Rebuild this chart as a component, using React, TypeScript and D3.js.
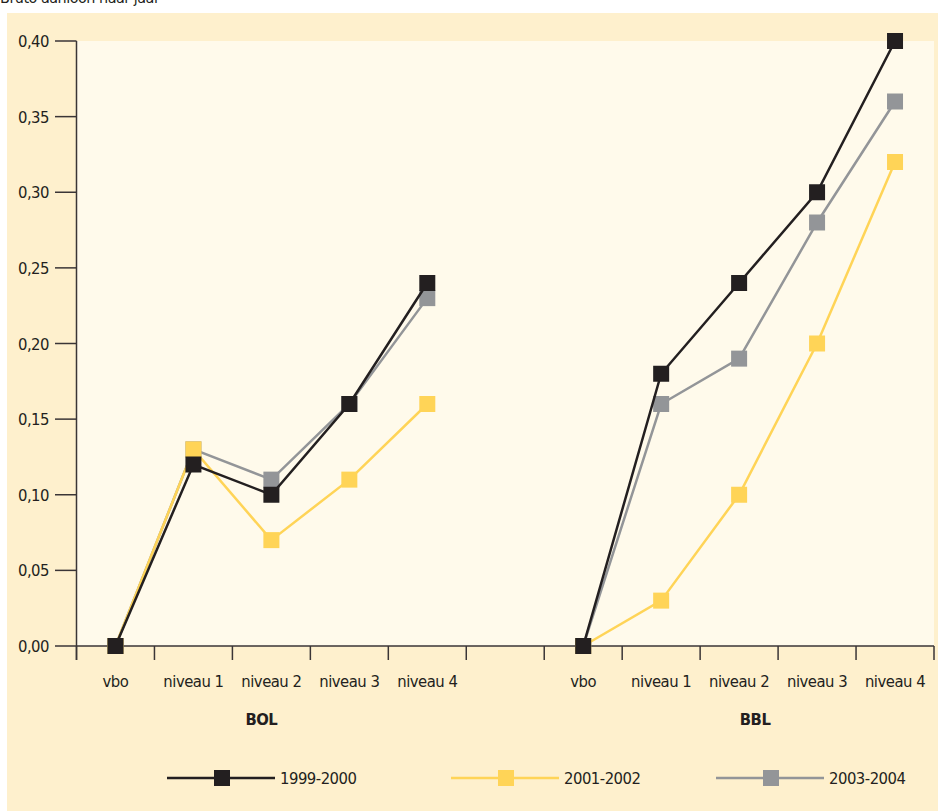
import React from "react";
import * as d3 from "d3";

const categories = ["vbo", "niveau 1", "niveau 2", "niveau 3", "niveau 4", "", "vbo", "niveau 1", "niveau 2", "niveau 3", "niveau 4"];
const groups = ["BOL", "BBL"];
const seriesNames = ["1999-2000", "2001-2002", "2003-2004"];
const yTicks = [0, 0.05, 0.1, 0.15, 0.2, 0.25, 0.3, 0.35, 0.4];

const s1999BOL = [0, 0.12, 0.10, 0.16, 0.24];
const s1999BBL = [0, 0.18, 0.24, 0.30, 0.40];
const s2001BOL = [0, 0.13, 0.07, 0.11, 0.16];
const s2001BBL = [0, 0.03, 0.10, 0.20, 0.32];
const s2003BOL = [0, 0.13, 0.11, 0.16, 0.23];
const s2003BBL = [0, 0.16, 0.19, 0.28, 0.36];

const colors = ["#231F20", "#FFD457", "#939598"];
const FONT = "'Liberation Sans Narrow', 'DejaVu Sans Condensed', 'Roboto Condensed', sans-serif";

export default function App() {
  const W = 938, H = 811;
  const left = 76.5, right = 934, top = 41, bottom = 646;
  const x = d3.scaleBand<number>().domain(d3.range(categories.length)).range([left, right]).padding(0);
  const y = d3.scaleLinear().domain([0, 0.4]).range([bottom, top]);
  const cx = (i: number) => (x(i) as number) + x.bandwidth() / 2;

  const seriesData = [
    { name: seriesNames[0], color: colors[0], bol: s1999BOL, bbl: s1999BBL },
    { name: seriesNames[1], color: colors[1], bol: s2001BOL, bbl: s2001BBL },
    { name: seriesNames[2], color: colors[2], bol: s2003BOL, bbl: s2003BBL },
  ];
  const drawOrder = [2, 1, 0];
  const line = d3.line<[number, number]>().x((d) => cx(d[0])).y((d) => y(d[1]));
  const sq = 16;

  const tickXs = d3.range(categories.length + 1).map((i) => left + i * x.bandwidth());
  const groupX = [cx(2) - 10, cx(8) + 16];
  const legendX = [167, 451, 716];
  const legendY = 778;
  const ls = -0.5;

  return (
    <div style={{ position: "absolute", left: 0, top: 0 }}>
      <svg width={W} height={H} style={{ display: "block" }} fontFamily={FONT}>
        <rect x={0} y={0} width={W} height={H} fill="#ffffff" />
        <text x={0} y={3} fontSize={16} letterSpacing={ls} fill="#231F20">Bruto aanloon naar jaar</text>
        <rect x={7} y={13} width={W - 7} height={H - 13} fill="#FEF0CD" />
        <rect x={left} y={top} width={right - left} height={bottom - top} fill="#FFFAEB" />

        {/* y axis */}
        <line x1={left} x2={left} y1={top} y2={bottom + 14} stroke="#3a3536" strokeWidth={1.5} />
        {yTicks.map((t) => (
          <g key={t}>
            <line x1={55} x2={left} y1={y(t)} y2={y(t)} stroke="#3a3536" strokeWidth={1.5} />
            <text x={49} y={y(t) + 6} textAnchor="end" fontSize={16.5} letterSpacing={ls} fill="#231F20">
              {d3.format(".2f")(t).replace(".", ",")}
            </text>
          </g>
        ))}
        {/* x axis */}
        <line x1={left} x2={right} y1={bottom} y2={bottom} stroke="#3a3536" strokeWidth={1.5} />
        {tickXs.map((tx, i) => (
          <line key={i} x1={tx} x2={tx} y1={bottom} y2={bottom + 14} stroke="#3a3536" strokeWidth={1.5} />
        ))}
        {categories.map((c, i) => (
          <text key={i} x={cx(i)} y={687} textAnchor="middle" fontSize={16.5} letterSpacing={ls} fill="#231F20">{c}</text>
        ))}
        {groups.map((g, i) => (
          <text key={g} x={groupX[i]} y={725} textAnchor="middle" fontSize={16.5} letterSpacing={ls} fontWeight="bold" fill="#231F20">{g}</text>
        ))}

        {/* series */}
        {drawOrder.map((si) => {
          const s = seriesData[si];
          const bolPts: [number, number][] = s.bol.map((v, i) => [i, v]);
          const bblPts: [number, number][] = s.bbl.map((v, i) => [i + 6, v]);
          return (
            <g key={s.name}>
              <path d={line(bolPts) || ""} fill="none" stroke={s.color} strokeWidth={2.5} />
              <path d={line(bblPts) || ""} fill="none" stroke={s.color} strokeWidth={2.5} />
              {[...bolPts, ...bblPts].map((p, k) => (
                <rect key={k} x={cx(p[0]) - sq / 2} y={y(p[1]) - sq / 2} width={sq} height={sq} fill={s.color} />
              ))}
            </g>
          );
        })}

        {/* legend */}
        {seriesData.map((s, i) => (
          <g key={s.name}>
            <line x1={legendX[i]} x2={legendX[i] + 108} y1={legendY} y2={legendY} stroke={s.color} strokeWidth={2.5} />
            <rect x={legendX[i] + 55 - sq / 2} y={legendY - sq / 2} width={sq} height={sq} fill={s.color} />
            <text x={legendX[i] + 113} y={legendY + 6} fontSize={16.5} letterSpacing={ls} fill="#231F20">{s.name}</text>
          </g>
        ))}
      </svg>
    </div>
  );
}
